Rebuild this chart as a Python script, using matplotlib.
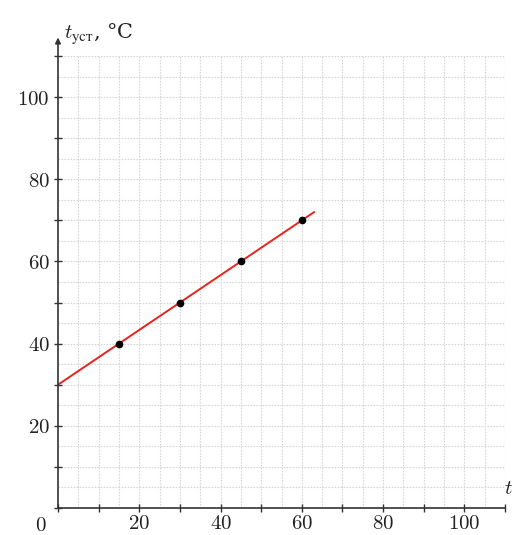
import matplotlib
matplotlib.use('Agg')
import matplotlib.pyplot as plt
import numpy as np

plt.rcParams['mathtext.fontset'] = 'cm'
plt.rcParams['font.family'] = ['DejaVu Serif']

# measured points (t, t_уст)
t_points = [15, 30, 45, 60]
t_set_points = [40, 50, 60, 70]

# fitted line end points
line_t = [0, 63]
line_tset = [30, 72]

x_ticks = [0, 10, 20, 30, 40, 50, 60, 70, 80, 90, 100, 110]
x_labels = ['', '', '20', '', '40', '', '60', '', '80', '', '100', '']
y_ticks = [0, 10, 20, 30, 40, 50, 60, 70, 80, 90, 100, 110]
y_labels = ['', '', '20', '', '40', '', '60', '', '80', '', '100', '']

fig = plt.figure(figsize=(5.14, 5.35), dpi=100)
ax = fig.add_axes([58 / 514, 27 / 535, 447 / 514, 452 / 535])
ax.set_xlim(0, 110)
ax.set_ylim(0, 110)

# grid every 5 units
for v in np.arange(5, 111, 5):
    ax.axvline(v, color='#d6d6d6', lw=0.8, ls=(0, (1.5, 1.2)), zorder=0)
    ax.axhline(v, color='#d6d6d6', lw=0.8, ls=(0, (1.5, 1.2)), zorder=0)

ax.plot(line_t, line_tset, color='#e8231e', lw=1.4, zorder=2)
ax.plot(t_points, t_set_points, 'o', color='black', ms=4.5, zorder=3)

for s in ['top', 'right', 'left']:
    ax.spines[s].set_visible(False)
ax.spines['bottom'].set_color('#333333')
ax.spines['bottom'].set_linewidth(1.2)

ax.annotate('', xy=(0, 114.5), xytext=(0, 0), xycoords='data',
            arrowprops=dict(arrowstyle='-|>', color='#333333', lw=1.2,
                            mutation_scale=8, shrinkA=0, shrinkB=0),
            annotation_clip=False)

ax.set_xticks(x_ticks)
ax.set_xticklabels(['$%s$' % l if l else '' for l in x_labels], fontsize=15)
ax.set_yticks(y_ticks)
ax.set_yticklabels(['$%s$' % l if l else '' for l in y_labels], fontsize=15)
ax.tick_params(direction='inout', length=6, width=1.0, color='#333333',
               labelcolor='#222222', pad=3)
ax.tick_params(axis='x', pad=1)

ax.text(-2.8, -2.0, '$0$', fontsize=15, ha='right', va='top', color='#222222')
ax.text(1.5, 112.3, r'$t_{\mathrm{уст}}$, °C', fontsize=15, ha='left', va='bottom',
        color='#222222')
ax.text(109.8, 2.5, '$t$', fontsize=15, ha='left', va='bottom', color='#222222')

fig.savefig('out.png', dpi=100, facecolor='white')
